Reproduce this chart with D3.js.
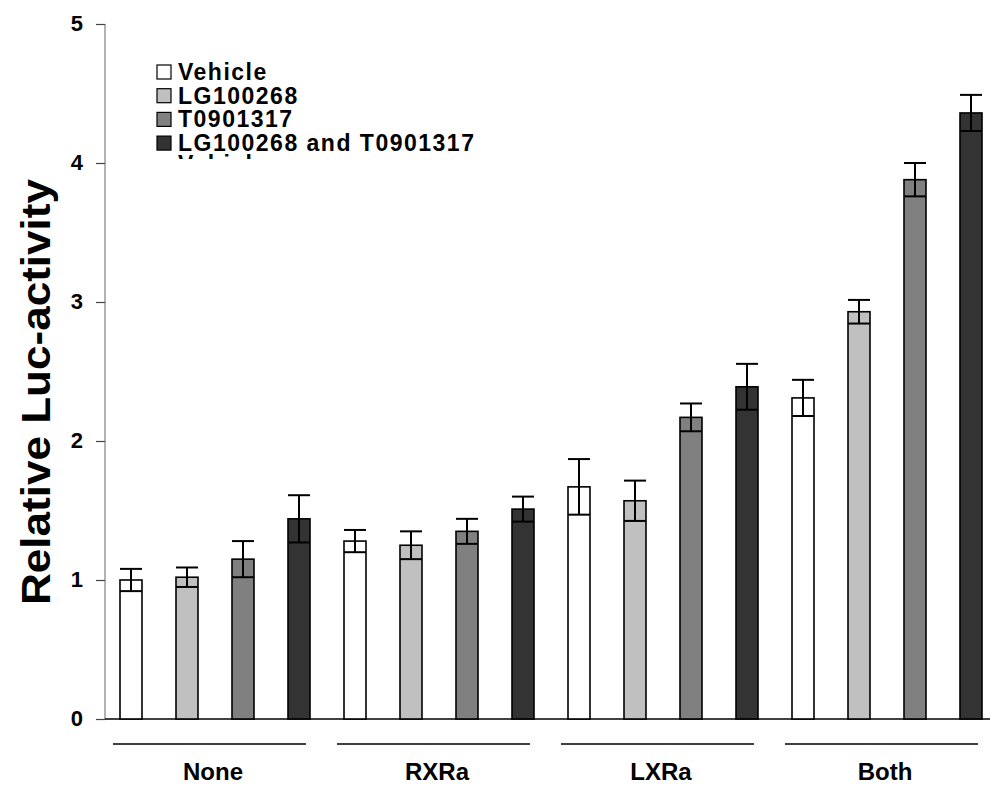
<!DOCTYPE html>
<html>
<head>
<meta charset="utf-8">
<script src="https://cdn.jsdelivr.net/npm/d3@7"></script>
<style>
  html, body { margin: 0; padding: 0; background: #fff; }
  svg { display: block; font-family: Arial, "Liberation Sans", sans-serif; font-weight: bold; }
</style>
</head>
<body>
<div id="chart"></div>
<script>
'use strict';

const groups = ['None', 'RXRa', 'LXRa', 'Both'];
const series = ['Vehicle', 'LG100268', 'T0901317', 'LG100268 and T0901317'];
const fills  = ['#ffffff', '#c0c0c0', '#808080', '#333333'];

// mean values per group, one entry per series
const means = [
  [1.00, 1.02, 1.15, 1.44],
  [1.28, 1.25, 1.35, 1.51],
  [1.67, 1.57, 2.17, 2.39],
  [2.31, 2.93, 3.88, 4.36],
];
const errors = [
  [0.08, 0.07, 0.13, 0.17],
  [0.08, 0.10, 0.09, 0.09],
  [0.20, 0.145, 0.10, 0.165],
  [0.13, 0.085, 0.12, 0.13],
];
const yTicks = [0, 1, 2, 3, 4, 5];

const W = 990, H = 785;
const x0 = 103, x1 = 999, yTop = 24, yBot = 719;
const barW = 22;

const svg = d3.select('#chart').append('svg')
  .attr('width', W).attr('height', H);

const xGroup = d3.scaleBand().domain(groups).range([x0, x1]);
const xSeries = d3.scaleBand().domain(series).range([0, xGroup.bandwidth()]);
const y = d3.scaleLinear().domain([0, 5]).range([yBot, yTop]);

// y axis
const yAxis = svg.append('g')
  .attr('transform', `translate(105,0)`)
  .call(d3.axisLeft(y).tickValues(yTicks).tickSize(9).tickPadding(13).tickFormat(d3.format('d')));
yAxis.attr('font-size', null).attr('font-family', null);
yAxis.select('.domain').attr('stroke', '#666').attr('stroke-width', 1).attr('d', `M0,${yTop}V${yBot}`);
yAxis.selectAll('.tick line').attr('stroke', '#444').attr('stroke-width', 1.2);
yAxis.selectAll('.tick text')
  .attr('fill', '#000').attr('dy', '0.3em')
  .style('font-size', '22px');

// baseline
svg.append('line')
  .attr('x1', 105).attr('x2', 990).attr('y1', y(0)).attr('y2', y(0))
  .attr('stroke', '#000').attr('stroke-width', 1.3);

// y title
svg.append('text')
  .attr('transform', `translate(50,392) rotate(-90)`)
  .attr('text-anchor', 'middle')
  .attr('textLength', 426)
  .attr('lengthAdjust', 'spacingAndGlyphs')
  .style('font-size', '40px')
  .text('Relative Luc-activity');

// bars
const rows = [];
groups.forEach((g, gi) => series.forEach((s, si) => {
  rows.push({ g, s, si, v: means[gi][si], e: errors[gi][si] });
}));

const cx = d => xGroup(d.g) + xSeries(d.s) + xSeries.bandwidth() / 2;

svg.append('g').selectAll('rect')
  .data(rows).join('rect')
  .attr('x', d => cx(d) - barW / 2)
  .attr('y', d => y(d.v))
  .attr('width', barW)
  .attr('height', d => y(0) - y(d.v))
  .attr('fill', d => fills[d.si])
  .attr('stroke', '#000')
  .attr('stroke-width', 1.6);

// error bars
const eb = svg.append('g').attr('stroke', '#000').attr('stroke-width', 2);
rows.forEach(d => {
  const c = cx(d);
  eb.append('line').attr('x1', c).attr('x2', c).attr('y1', y(d.v + d.e)).attr('y2', y(d.v - d.e));
  eb.append('line').attr('x1', c - 11).attr('x2', c + 11).attr('y1', y(d.v + d.e)).attr('y2', y(d.v + d.e));
  eb.append('line').attr('x1', c - 11).attr('x2', c + 11).attr('y1', y(d.v - d.e)).attr('y2', y(d.v - d.e));
});

// group lines and labels
const gl = svg.append('g');
groups.forEach(g => {
  const gx = xGroup(g);
  gl.append('line')
    .attr('x1', gx + 10).attr('x2', gx + 203)
    .attr('y1', 744).attr('y2', 744)
    .attr('stroke', '#000').attr('stroke-width', 1.5);
  gl.append('text')
    .attr('x', gx + 110).attr('y', 780)
    .attr('text-anchor', 'middle')
    .style('font-size', '24px')
    .text(g);
});

// legend
const legend = svg.append('g').attr('transform', 'translate(157,72)');
series.forEach((s, i) => {
  const row = legend.append('g').attr('transform', `translate(0,${i * 23.7})`);
  row.append('rect')
    .attr('x', 0).attr('y', -7).attr('width', 14).attr('height', 14)
    .attr('fill', fills[i]).attr('stroke', '#000').attr('stroke-width', 1.2);
  row.append('text')
    .attr('x', 21).attr('y', 8)
    .style('font-size', '23px')
    .style('letter-spacing', '1.5px')
    .text(s);
});

// clipped remnant of a duplicated legend label
svg.append('clipPath').attr('id', 'cut')
  .append('rect').attr('x', 170).attr('y', 150).attr('width', 120).attr('height', 9);
svg.append('text')
  .attr('clip-path', 'url(#cut)')
  .attr('x', 178).attr('y', 172)
  .style('font-size', '23px')
  .style('letter-spacing', '1.5px')
  .text('Vehicle');
</script>
</body>
</html>
